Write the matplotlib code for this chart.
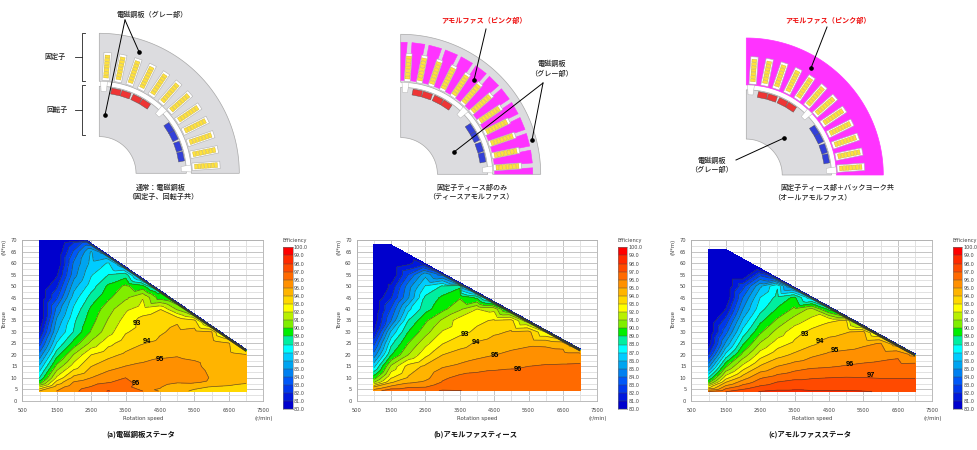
"""Efficiency maps for three stator materials, with the motor cross sections above."""
import matplotlib
matplotlib.use("Agg")
import matplotlib.pyplot as plt
import matplotlib.tri as mtri
import numpy as np
from matplotlib.colors import ListedColormap, BoundaryNorm
from matplotlib.patches import Polygon

JP = ["Noto Sans CJK JP", "DejaVu Sans"]
W, H = 978, 450
_ = np.nan

SPEEDS = [1000, 1500, 2000, 2500, 3000, 3500, 4000, 4500, 5000, 5500, 6000, 6500, 7000]
X_TICKS = [500, 1500, 2500, 3500, 4500, 5500, 6500, 7500]
Y_TICKS = list(range(0, 75, 5))
CBAR_TICKS = list(range(80, 101))
BAND_COLORS = ["#0000cd", "#0018dc", "#0038ec", "#0058f8", "#0080f0", "#00a4f0", "#00ccff", "#00ffff",
               "#00eea0", "#00ee00", "#80ee00", "#b8f000", "#ffff00", "#ffd800", "#ffb400", "#ff9000",
               "#ff6a00", "#ff4a00", "#ff2a00", "#ff0000"]

TORQUES_A = [4.2, 6, 8, 10, 15, 20, 25, 30, 35, 40, 45, 50, 55, 60, 65, 70]
ENV_SPEED_A = [1000, 2370, 7000]
ENV_TORQUE_A = [70, 70, 22.4]
# efficiency 1 N*m under the outer edge, per speed
NEAR_EDGE_A = [80, 80, 82, 84, 85.5, 86, 86.5, 89, 90, 91, 92, 93, 93.5]
EFF_A = [
    [94.1, 95.0, 95.8, 96.5, 97.05, 96.5, 96.0, 94.9, 94.3, 93.85, 93.6, 93.4, 93.2],
    [92.0, 94.5, 95.6, 96.05, 96.7, 96.4, 95.2, 95.05, 94.6, 94.2, 93.95, 93.8, 93.4],
    [89.4, 93.4, 95.1, 95.6, 95.95, 96.3, 95.5, 95.3, 95.05, 95.1, 94.8, 94.5, 94.2],
    [88.0, 92.2, 94.3, 95.0, 95.6, 96.0, 95.7, 95.5, 95.5, 95.5, 94.9, 94.6, 94.3],
    [86.2, 90.3, 92.5, 93.98, 94.6, 95.02, 95.3, 95.5, 95.5, 95.2, 94.7, 94.4, 94.2],
    [84.4, 88.6, 91.1, 93.0, 93.7, 94.2, 94.4, 94.8, 94.9, 94.8, 94.6, 94.3, 94.05],
    [82.6, 87.1, 89.4, 91.3, 92.7, 93.5, 93.97, 94.2, 94.4, 94.6, 94.6, 94.1, _],
    [81.0, 85.9, 88.1, 90.1, 91.6, 92.9, 93.4, 93.9, 94.2, 94.4, 94.05, _, _],
    [80.0, 85.2, 87.8, 89.6, 91.1, 92.4, 93.4, 93.7, 93.9, 93.2, _, _, _],
    [80.0, 84.3, 87.2, 89.2, 90.6, 91.8, 92.4, 92.95, 90.8, _, _, _, _],
    [80.0, 82.8, 86.5, 88.4, 89.8, 90.8, 91.95, 89.5, _, _, _, _, _],
    [80.0, 81.8, 85.6, 87.5, 89.2, 90.2, 89.3, _, _, _, _, _, _],
    [80.0, 80.8, 84.6, 86.9, 88.0, 88.5, _, _, _, _, _, _, _],
    [80.0, 80.0, 84.2, 86.3, 87.1, _, _, _, _, _, _, _, _],
    [80.0, 80.0, 83.2, 86.1, _, _, _, _, _, _, _, _, _],
    [80.0, 80.0, 81.7, _, _, _, _, _, _, _, _, _, _],
]

TORQUES_B = [4.4, 6, 8, 10, 15, 20, 25, 30, 35, 40, 45, 50, 55, 60, 65]
ENV_SPEED_B = [1000, 1500, 7000]
ENV_TORQUE_B = [68, 68, 22.6]
NEAR_EDGE_B = [80, 80, 80.5, 82, 84, 85, 86.5, 88.5, 90, 91, 92, 93.5, 94.5]
EFF_B = [
    [95.5, 96.6, 96.7, 96.8, 97.05, 97.01, 96.9, 96.9, 96.9, 96.9, 96.9, 96.9, 96.9],
    [94.0, 95.3, 95.85, 95.95, 96.7, 96.8, 96.8, 96.8, 96.8, 96.8, 96.8, 96.8, 96.8],
    [91.0, 93.9, 94.85, 95.2, 96.1, 96.6, 96.7, 96.7, 96.7, 96.7, 96.7, 96.7, 96.7],
    [89.5, 92.9, 94.1, 94.7, 95.8, 96.3, 96.4, 96.45, 96.5, 96.5, 96.5, 96.5, 96.5],
    [86.7, 91.2, 93.4, 94.2, 94.9, 95.2, 95.55, 95.75, 95.85, 96.0, 96.1, 96.15, 96.2],
    [84.4, 88.9, 91.0, 92.7, 94.0, 94.4, 94.7, 94.98, 95.2, 95.35, 95.45, 95.4, 95.4],
    [82.7, 87.7, 90.0, 91.7, 92.95, 93.6, 94.15, 94.5, 94.7, 94.85, 94.8, 94.6, _],
    [81.0, 86.2, 89.0, 90.6, 92.1, 92.7, 93.2, 93.8, 94.1, 94.3, 93.9, _, _],
    [80.3, 84.0, 88.0, 89.8, 91.2, 92.5, 92.8, 93.1, 93.3, _, _, _, _],
    [80.0, 83.1, 86.7, 88.6, 89.7, 90.8, 92.0, 91.7, _, _, _, _, _],
    [80.0, 81.9, 84.9, 88.2, 89.2, 89.9, 88.8, _, _, _, _, _, _],
    [80.0, 81.2, 84.5, 87.1, 88.1, 88.8, _, _, _, _, _, _, _],
    [80.0, 80.0, 83.0, 85.7, 87.0, _, _, _, _, _, _, _, _],
    [80.0, 80.0, 80.7, _, _, _, _, _, _, _, _, _, _],
    [80.0, 80.0, _, _, _, _, _, _, _, _, _, _, _],
]

TORQUES_C = [3.9, 6, 8, 10, 15, 20, 25, 30, 35, 40, 45, 50, 55, 60, 65]
ENV_SPEED_C = [1000, 1500, 7000]
ENV_TORQUE_C = [66, 66, 20.4]
NEAR_EDGE_C = [80, 80, 80, 81, 83.5, 85.5, 87, 88.5, 90.5, 91.5, 93, 94, 95]
EFF_C = [
    [96.2, 97.0, 97.5, 98.05, 98.2, 98.2, 98.1, 98.1, 98.1, 98.05, 97.95, 97.9, 97.9],
    [92.6, 95.4, 96.5, 97.2, 97.6, 97.7, 97.7, 97.7, 97.7, 97.7, 97.7, 97.7, 97.7],
    [89.8, 94.0, 95.5, 96.4, 97.05, 97.4, 97.4, 97.4, 97.4, 97.4, 97.3, 97.3, 97.3],
    [88.0, 92.6, 94.5, 95.9, 96.4, 96.7, 96.9, 97.0, 97.05, 97.02, 96.95, 96.95, 96.95],
    [84.7, 89.8, 92.3, 94.1, 95.0, 95.5, 95.8, 95.9, 96.07, 96.2, 96.3, 96.4, 96.45],
    [82.0, 87.3, 90.4, 92.5, 93.6, 94.2, 94.8, 95.2, 95.35, 95.5, 95.65, 95.8, _],
    [80.4, 85.2, 88.8, 91.1, 92.5, 93.2, 93.8, 94.35, 94.5, 94.8, 95.05, _, _],
    [80.0, 83.6, 87.4, 89.8, 91.4, 92.6, 93.3, 93.7, 93.95, 94.2, _, _, _],
    [80.0, 82.4, 86.2, 88.7, 90.2, 91.5, 92.3, 92.85, 93.1, _, _, _, _],
    [80.0, 81.0, 85.0, 87.6, 89.1, 90.2, 91.3, 89.5, _, _, _, _, _],
    [80.0, 80.0, 84.0, 87.0, 88.3, 89.2, _, _, _, _, _, _, _],
    [80.0, 80.0, 82.6, 85.8, 87.9, _, _, _, _, _, _, _, _],
    [80.0, 80.0, 80.0, 82.7, _, _, _, _, _, _, _, _, _],
    [80.0, 80.0, 80.0, _, _, _, _, _, _, _, _, _, _],
    [80.0, 80.0, _, _, _, _, _, _, _, _, _, _, _],
]

LABEL_LEVELS_A = [93, 94, 95, 96]
LABEL_SPEED_A = [3820, 4110, 4500, 3800]
LABEL_TORQUE_A = [33.5, 25.8, 18, 7.6]
LABEL_LEVELS_B = [93, 94, 95, 96]
LABEL_SPEED_B = [3650, 3960, 4530, 5200]
LABEL_TORQUE_B = [28.7, 25.3, 19.7, 13.4]
LABEL_LEVELS_C = [93, 94, 95, 96, 97]
LABEL_SPEED_C = [3800, 4240, 4670, 5110, 5720]
LABEL_TORQUE_C = [28.7, 25.8, 21.7, 15.9, 11.2]

EDGE_EFF = 80.0
GRAY = "#dcdcdf"
PINK = "#ff33ff"
NEAR_GAP = 1.0
TICK_COLOR = "#444444"


def px_axes(fig, left, right, top, bottom):
    return fig.add_axes([left / W, 1 - bottom / H, (right - left) / W, (bottom - top) / H])


def draw_map(fig, left, right, cbar_left, eff, near, torques, env_speed, env_torque, labels, title, title_x):
    top, bottom = 240.3, 400.7
    ax = px_axes(fig, left, right, top, bottom)
    ax.set_xlim(500, 7500)
    ax.set_ylim(0, 70)

    speeds = np.array(SPEEDS, dtype=float)
    grid_x, grid_t = np.meshgrid(speeds, np.array(torques, dtype=float))
    z = np.array(eff, dtype=float)
    limit = np.interp(grid_x, env_speed, env_torque)
    keep = np.isfinite(z) & (grid_t < limit - NEAR_GAP - 0.4)

    # mesh points along the outer edge, close enough that the triangulation keeps both rows intact
    edge_x = np.unique(np.concatenate([np.arange(1000.0, 7001.0, 100.0), env_speed]))
    edge_t = np.interp(edge_x, env_speed, env_torque)
    near_z = np.interp(edge_x, speeds, near)
    px = np.concatenate([grid_x[keep], edge_x, edge_x])
    pt = np.concatenate([grid_t[keep], edge_t - NEAR_GAP, edge_t])
    values = np.concatenate([z[keep], near_z, np.full(edge_x.size, EDGE_EFF)])
    # triangulate on rescaled axes, rpm and N*m differ by orders of magnitude
    triangles = mtri.Triangulation(px / 100.0, pt).triangles
    tri = mtri.Triangulation(px, pt, triangles)

    levels = np.array(CBAR_TICKS, dtype=float)
    fill_levels = levels.copy()
    fill_levels[0] = 79.5
    ax.tricontourf(tri, values, levels=fill_levels, colors=BAND_COLORS, zorder=3)
    ax.tricontour(tri, values, levels=levels[1:-1], colors="#3a3a2a", linewidths=0.5, alpha=0.75, zorder=4)

    for level, x, y in zip(*labels):
        ax.text(x, y, str(level), fontsize=5.4, ha="center", va="center", color="black",
                fontweight="bold", family="Liberation Sans", zorder=5)

    ax.set_xticks(X_TICKS)
    ax.set_xticks(np.arange(1000, 7500, 1000), minor=True)
    ax.set_yticks(Y_TICKS)
    ax.set_yticks(np.arange(2.5, 70, 5), minor=True)
    ax.grid(True, which="major", color="#c4c4c4", lw=0.7)
    ax.grid(True, which="minor", color="#e2e2e2", lw=0.7)
    ax.set_axisbelow(True)
    ax.tick_params(axis="x", which="both", length=0, labelsize=3.7, labelcolor=TICK_COLOR, pad=5)
    ax.tick_params(axis="y", which="both", length=0, labelsize=3.7, labelcolor=TICK_COLOR, pad=3.6)
    for spine in ax.spines.values():
        spine.set_color("#b0b0b0")
        spine.set_linewidth(0.6)
    ax.set_xlabel("Rotation speed", fontsize=3.9, color=TICK_COLOR, labelpad=2.5)
    ax.text(-0.072, 0.5, "Torque", transform=ax.transAxes, fontsize=3.9, color=TICK_COLOR,
            rotation=90, ha="center", va="center")
    ax.text(1.0, -0.113, "(r/min)", transform=ax.transAxes, fontsize=3.9, color=TICK_COLOR,
            ha="center", va="center")
    ax.text(-0.074, 1.01, "(N*m)", transform=ax.transAxes, fontsize=3.9, color=TICK_COLOR,
            rotation=90, ha="center", va="top")

    cax = px_axes(fig, cbar_left, cbar_left + 9.4, 247.3, 409.3)
    cmap = ListedColormap(BAND_COLORS)
    cax.pcolormesh([0, 1], levels, np.arange(20).reshape(-1, 1), cmap=cmap,
                   norm=BoundaryNorm(np.arange(-0.5, 20.5), 20))
    cax.hlines(levels, 0, 1, color="#444444", lw=0.3)
    cax.set_xticks([])
    cax.yaxis.tick_right()
    cax.set_yticks(CBAR_TICKS)
    cax.set_yticklabels([f"{v:.1f}" for v in CBAR_TICKS])
    cax.tick_params(axis="y", length=0, labelsize=3.5, labelcolor=TICK_COLOR, pad=0.8)
    for spine in cax.spines.values():
        spine.set_color("#777777")
        spine.set_linewidth(0.4)
    cax.text(1.25, 100.8, "Efficiency", fontsize=3.6, color=TICK_COLOR, ha="center", va="center",
             transform=cax.get_yaxis_transform())

    fig.text(title_x / W, 1 - 434.5 / H, title, fontsize=5.3, fontweight="bold", family=JP,
             ha="center", va="center", color="#111111")


def polar(cx, cy, r, deg):
    t = np.radians(deg)
    return cx + r * np.sin(t), cy - r * np.cos(t)


def sector(ax, cx, cy, r0, r1, color, edge=None, z=1):
    angles = np.linspace(0, 90, 60)
    outer = [polar(cx, cy, r1, a) for a in angles]
    inner = [polar(cx, cy, r0, a) for a in angles[::-1]]
    patch = Polygon(outer + inner, closed=True, fc=color, ec=edge or color, lw=0.5, zorder=z)
    ax.add_patch(patch)
    return patch


def radial_box(ax, cx, cy, deg, r0, r1, w0, w1, fc, ec, lw=0.4, z=3, clip=None):
    t = np.radians(deg)
    radial = np.array([np.sin(t), -np.cos(t)])
    side = np.array([np.cos(t), np.sin(t)])
    c = np.array([cx, cy])
    pts = [c + radial * r0 - side * w0 / 2, c + radial * r1 - side * w1 / 2,
           c + radial * r1 + side * w1 / 2, c + radial * r0 + side * w0 / 2]
    patch = Polygon(pts, closed=True, fc=fc, ec=ec, lw=lw, zorder=z)
    ax.add_patch(patch)
    if clip is not None:
        patch.set_clip_path(clip)


def draw_motor(ax, cx, cy, R, mode):
    s = R / 140.0
    stator = PINK if mode == "all" else GRAY
    body = sector(ax, cx, cy, 92 * s, R, stator, "#a8a8a8" if mode != "all" else PINK)
    sector(ax, cx, cy, 36.7 * s, 87 * s, GRAY, "#a8a8a8", z=2)

    slot_angles = np.linspace(4, 86, 12)
    if mode == "teeth":
        tooth_angles = np.concatenate([[0], (slot_angles[:-1] + slot_angles[1:]) / 2, [90]])
        for a in tooth_angles:
            radial_box(ax, cx, cy, a, 94 * s, 132 * s, 8 * s, 13 * s, PINK, PINK, z=2, clip=body)

    width = 6.0 if mode == "teeth" else 7.5
    for a in slot_angles:
        radial_box(ax, cx, cy, a, 93 * s, 121 * s, width * s, width * s, "white", "#b0b0b0", z=3)
        for r in np.linspace(97, 117, 7):
            radial_box(ax, cx, cy, a, (r - 1.4) * s, (r + 1.4) * s, 4.8 * s, 4.8 * s,
                       "#ffe23c", "#c0a830", lw=0.25, z=4)

    # notches at the pole ends of the rotor
    for a in [3.0, 45, 87.0]:
        radial_box(ax, cx, cy, a, 82 * s, 92 * s, 5 * s, 7 * s, "white", "#b0b0b0", lw=0.3, z=3)
    for a, color in [(11.5, "#ee3535"), (18.5, "#ee3535"), (26.5, "#ee3535"), (33.4, "#ee3535"),
                     (57, "#3440d8"), (63.4, "#3440d8"), (71.3, "#3440d8"), (78.5, "#3440d8")]:
        radial_box(ax, cx, cy, a, 80 * s, 86 * s, 9.5 * s, 9.5 * s, color, "#555555", lw=0.3, z=4)


def pointer(ax, x0, y0, x1, y1):
    ax.plot([x0, x1], [y0, y1], color="black", lw=0.7, zorder=6)
    ax.plot([x1], [y1], "o", color="black", ms=2.3, zorder=6)


def jp_text(ax, x, y, s, color="#222222", size=5.1, weight="medium"):
    ax.text(x, y, s, fontsize=size, color=color, family=JP, fontweight=weight,
            ha="center", va="center", zorder=7)


fig = plt.figure(figsize=(W / 100, H / 100), dpi=100, facecolor="white")

draw_map(fig, 22.3, 263.3, 283.3, EFF_A, NEAR_EDGE_A, TORQUES_A, ENV_SPEED_A, ENV_TORQUE_A,
         (LABEL_LEVELS_A, LABEL_SPEED_A, LABEL_TORQUE_A), "(a)電磁鋼板ステータ", 141)
draw_map(fig, 356.7, 597.3, 618, EFF_B, NEAR_EDGE_B, TORQUES_B, ENV_SPEED_B, ENV_TORQUE_B,
         (LABEL_LEVELS_B, LABEL_SPEED_B, LABEL_TORQUE_B), "(b)アモルファスティース", 475)
draw_map(fig, 691.3, 932.3, 953, EFF_C, NEAR_EDGE_C, TORQUES_C, ENV_SPEED_C, ENV_TORQUE_C,
         (LABEL_LEVELS_C, LABEL_SPEED_C, LABEL_TORQUE_C), "(c)アモルファスステータ", 810)

# overlay in pixel coordinates for the cross sections
top = fig.add_axes([0, 0, 1, 1], facecolor="none", zorder=10)
top.set_xlim(0, W)
top.set_ylim(H, 0)
top.axis("off")

draw_motor(top, 99.3, 173.3, 140, "plain")
draw_motor(top, 400.7, 174.3, 140, "teeth")
draw_motor(top, 746.3, 175, 137, "all")

jp_text(top, 152, 15, "電磁鋼板（グレー部）")
pointer(top, 125, 20, 139, 51.7)
pointer(top, 125, 20, 105, 115)
jp_text(top, 55, 57, "固定子")
jp_text(top, 57, 110, "回転子")
for y0, y1 in [(33, 81), (84.5, 135)]:
    top.plot([85, 82, 82, 85], [y0, y0, y1, y1], color="#222222", lw=0.6)
    top.plot([75, 82], [(y0 + y1) / 2, (y0 + y1) / 2], color="#222222", lw=0.6)
jp_text(top, 161, 188, "通常：電磁鋼板")
jp_text(top, 163, 197, "（固定子、回転子共）")

jp_text(top, 484, 20, "アモルファス（ピンク部）", color="#ee1111", weight="bold")
pointer(top, 486, 29, 474, 80)
jp_text(top, 552, 64, "電磁鋼板")
jp_text(top, 552, 74, "（グレー部）")
pointer(top, 543, 83, 454, 152)
pointer(top, 543, 83, 532, 140)
jp_text(top, 472, 188, "固定子ティース部のみ")
jp_text(top, 471, 197, "（ティースアモルファス）")

jp_text(top, 828, 20, "アモルファス（ピンク部）", color="#ee1111", weight="bold")
pointer(top, 827, 27, 811, 68)
jp_text(top, 712, 161, "電磁鋼板")
jp_text(top, 712, 170, "（グレー部）")
pointer(top, 736, 160, 784, 138)
jp_text(top, 837, 188, "固定子ティース部＋バックヨーク共")
jp_text(top, 812, 197, "（オールアモルファス）")

fig.savefig("out.png", dpi=100)
